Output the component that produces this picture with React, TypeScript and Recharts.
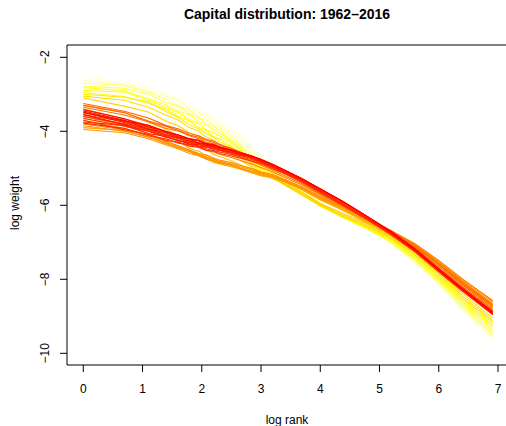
import React from 'react';
import { LineChart, Line, XAxis, YAxis, ReferenceLine } from 'recharts';

// log rank grid (ranks 1..10, then coarser up to rank 1000)
const LOG_RANK = [0, 0.69, 1.1, 1.39, 1.61, 1.79, 1.95, 2.08, 2.2, 2.3, 2.48, 2.64, 2.83, 3.0, 3.2, 3.4, 3.69, 4.0, 4.38, 4.79, 5.19, 5.6, 6.0, 6.4, 6.91];

// log weight per year
const W1962 = [-2.55, -2.72, -2.88, -3.0, -3.2, -3.28, -3.45, -3.58, -3.64, -3.75, -3.98, -4.15, -4.42, -4.7, -4.95, -5.25, -5.56, -5.93, -6.3, -6.65, -7.02, -7.55, -8.15, -8.85, -9.62];
const W1964 = [-2.5, -2.7, -2.8, -2.98, -3.12, -3.32, -3.42, -3.52, -3.66, -3.72, -3.9, -4.12, -4.4, -4.68, -4.9, -5.22, -5.53, -5.9, -6.28, -6.63, -7.0, -7.52, -8.12, -8.8, -9.58];
const W1966 = [-2.62, -2.74, -2.92, -3.05, -3.18, -3.4, -3.5, -3.62, -3.7, -3.82, -4.02, -4.22, -4.5, -4.75, -4.98, -5.27, -5.58, -5.95, -6.3, -6.65, -7.02, -7.55, -8.12, -8.8, -9.55];
const W1968 = [-2.7, -2.76, -2.95, -3.12, -3.32, -3.42, -3.62, -3.7, -3.84, -3.9, -4.1, -4.32, -4.6, -4.85, -5.05, -5.32, -5.63, -5.98, -6.33, -6.65, -7.0, -7.5, -8.1, -8.75, -9.5];
const W1970 = [-2.78, -2.84, -3.0, -3.22, -3.33, -3.52, -3.64, -3.8, -3.88, -3.98, -4.2, -4.38, -4.66, -4.9, -5.1, -5.36, -5.66, -6.0, -6.33, -6.63, -6.98, -7.48, -8.05, -8.7, -9.45];
const W1972 = [-2.82, -2.9, -3.12, -3.28, -3.46, -3.55, -3.74, -3.84, -3.96, -4.05, -4.25, -4.45, -4.72, -4.95, -5.12, -5.38, -5.68, -6.0, -6.33, -6.63, -6.98, -7.45, -8.02, -8.65, -9.38];
const W1974 = [-2.9, -2.94, -3.16, -3.35, -3.5, -3.68, -3.8, -3.96, -4.04, -4.12, -4.3, -4.5, -4.78, -5.0, -5.15, -5.42, -5.7, -6.02, -6.33, -6.62, -6.95, -7.42, -7.98, -8.6, -9.3];
const W1976 = [-2.95, -3.06, -3.25, -3.4, -3.6, -3.72, -3.9, -3.98, -4.14, -4.2, -4.38, -4.55, -4.82, -5.02, -5.18, -5.42, -5.7, -6.02, -6.32, -6.6, -6.92, -7.38, -7.95, -8.55, -9.25];
const W1978 = [-3.0, -3.08, -3.2, -3.46, -3.64, -3.82, -3.94, -4.06, -4.16, -4.28, -4.42, -4.6, -4.85, -5.05, -5.2, -5.44, -5.72, -6.02, -6.3, -6.58, -6.9, -7.35, -7.9, -8.5, -9.18];
const W1980 = [-3.05, -3.16, -3.35, -3.56, -3.7, -3.9, -4.0, -4.16, -4.24, -4.35, -4.5, -4.68, -4.9, -5.1, -5.24, -5.45, -5.72, -6.0, -6.3, -6.57, -6.88, -7.32, -7.85, -8.45, -9.12];
const W1982 = [-3.1, -3.32, -3.48, -3.72, -3.86, -4.04, -4.14, -4.32, -4.38, -4.5, -4.62, -4.78, -4.96, -5.12, -5.25, -5.45, -5.7, -5.98, -6.26, -6.54, -6.85, -7.28, -7.8, -8.38, -9.05];
const W1984 = [-3.3, -3.48, -3.76, -3.94, -4.14, -4.24, -4.4, -4.48, -4.62, -4.68, -4.78, -4.9, -5.02, -5.15, -5.28, -5.42, -5.65, -5.95, -6.22, -6.5, -6.82, -7.22, -7.72, -8.28, -8.95];
const W1986 = [-3.45, -3.72, -3.88, -4.12, -4.28, -4.46, -4.54, -4.66, -4.74, -4.82, -4.9, -4.98, -5.08, -5.18, -5.24, -5.36, -5.58, -5.85, -6.14, -6.48, -6.78, -7.18, -7.65, -8.2, -8.85];
const W1988 = [-3.6, -3.84, -4.06, -4.24, -4.44, -4.54, -4.66, -4.74, -4.84, -4.88, -4.95, -5.02, -5.12, -5.2, -5.26, -5.38, -5.58, -5.85, -6.12, -6.45, -6.75, -7.12, -7.6, -8.12, -8.75];
const W1989 = [-3.7, -3.92, -4.1, -4.28, -4.4, -4.52, -4.62, -4.7, -4.78, -4.84, -4.92, -5.0, -5.1, -5.2, -5.24, -5.36, -5.56, -5.84, -6.1, -6.44, -6.74, -7.1, -7.58, -8.08, -8.7];
const W1990 = [-3.9, -3.98, -4.16, -4.3, -4.46, -4.54, -4.66, -4.72, -4.8, -4.85, -4.92, -5.0, -5.1, -5.18, -5.24, -5.36, -5.56, -5.82, -6.1, -6.42, -6.72, -7.08, -7.55, -8.05, -8.68];
const W1992 = [-3.95, -4.04, -4.2, -4.36, -4.48, -4.6, -4.66, -4.76, -4.8, -4.86, -4.92, -5.0, -5.08, -5.15, -5.22, -5.34, -5.54, -5.8, -6.07, -6.4, -6.7, -7.05, -7.5, -8.0, -8.6];
const W1993 = [-3.85, -4.0, -4.15, -4.32, -4.44, -4.55, -4.62, -4.7, -4.76, -4.82, -4.88, -4.95, -5.04, -5.12, -5.2, -5.32, -5.52, -5.78, -6.05, -6.38, -6.68, -7.04, -7.5, -8.0, -8.58];
const W1994 = [-3.8, -3.96, -4.1, -4.26, -4.4, -4.5, -4.6, -4.64, -4.72, -4.78, -4.84, -4.92, -5.0, -5.1, -5.17, -5.3, -5.5, -5.76, -6.03, -6.38, -6.68, -7.05, -7.5, -8.0, -8.58];
const W1996 = [-3.6, -3.8, -3.98, -4.14, -4.24, -4.36, -4.42, -4.52, -4.56, -4.62, -4.7, -4.78, -4.88, -4.98, -5.1, -5.25, -5.45, -5.72, -6.02, -6.35, -6.68, -7.08, -7.55, -8.05, -8.65];
const W1997 = [-3.5, -3.7, -3.9, -4.02, -4.14, -4.24, -4.32, -4.4, -4.46, -4.52, -4.6, -4.7, -4.8, -4.92, -5.05, -5.2, -5.42, -5.7, -6.0, -6.34, -6.7, -7.1, -7.58, -8.08, -8.7];
const W1998 = [-3.35, -3.56, -3.74, -3.92, -4.0, -4.12, -4.2, -4.3, -4.34, -4.42, -4.5, -4.6, -4.72, -4.85, -5.0, -5.15, -5.38, -5.68, -6.0, -6.35, -6.7, -7.12, -7.6, -8.12, -8.72];
const W2000 = [-3.25, -3.46, -3.64, -3.84, -3.94, -4.06, -4.12, -4.22, -4.26, -4.35, -4.45, -4.55, -4.68, -4.8, -4.95, -5.1, -5.35, -5.65, -6.0, -6.35, -6.72, -7.15, -7.65, -8.15, -8.78];
const W2001 = [-3.3, -3.5, -3.72, -3.86, -3.98, -4.1, -4.16, -4.24, -4.3, -4.38, -4.46, -4.58, -4.68, -4.8, -4.96, -5.1, -5.34, -5.64, -5.98, -6.35, -6.74, -7.18, -7.7, -8.2, -8.82];
const W2002 = [-3.4, -3.66, -3.84, -4.02, -4.1, -4.2, -4.24, -4.34, -4.36, -4.45, -4.52, -4.62, -4.72, -4.82, -4.98, -5.12, -5.36, -5.66, -6.0, -6.38, -6.75, -7.2, -7.72, -8.22, -8.85];
const W2004 = [-3.55, -3.74, -3.92, -4.04, -4.16, -4.22, -4.32, -4.34, -4.42, -4.48, -4.54, -4.62, -4.7, -4.8, -4.95, -5.1, -5.35, -5.65, -6.0, -6.38, -6.78, -7.25, -7.78, -8.3, -8.92];
const W2005 = [-3.6, -3.8, -3.95, -4.08, -4.18, -4.26, -4.32, -4.38, -4.42, -4.46, -4.52, -4.6, -4.68, -4.78, -4.92, -5.08, -5.32, -5.62, -5.98, -6.38, -6.8, -7.26, -7.8, -8.32, -8.95];
const W2006 = [-3.65, -3.86, -4.0, -4.12, -4.2, -4.3, -4.34, -4.4, -4.46, -4.5, -4.56, -4.63, -4.72, -4.82, -4.96, -5.1, -5.33, -5.62, -5.98, -6.38, -6.78, -7.25, -7.8, -8.32, -8.95];
const W2008 = [-3.7, -3.96, -4.08, -4.24, -4.3, -4.4, -4.44, -4.52, -4.54, -4.6, -4.66, -4.72, -4.8, -4.88, -5.02, -5.15, -5.38, -5.65, -6.0, -6.38, -6.78, -7.25, -7.78, -8.3, -8.92];
const W2009 = [-3.78, -3.92, -4.12, -4.2, -4.32, -4.36, -4.42, -4.48, -4.52, -4.56, -4.62, -4.68, -4.76, -4.85, -4.98, -5.12, -5.35, -5.62, -5.98, -6.36, -6.76, -7.22, -7.76, -8.28, -8.9];
const W2010 = [-3.75, -3.84, -4.06, -4.14, -4.26, -4.3, -4.4, -4.42, -4.5, -4.52, -4.58, -4.65, -4.72, -4.82, -4.96, -5.1, -5.32, -5.6, -5.95, -6.35, -6.75, -7.22, -7.75, -8.28, -8.9];
const W2012 = [-3.55, -3.82, -4.0, -4.16, -4.24, -4.34, -4.36, -4.44, -4.46, -4.5, -4.56, -4.62, -4.7, -4.8, -4.94, -5.08, -5.3, -5.58, -5.92, -6.32, -6.72, -7.2, -7.75, -8.28, -8.9];
const W2013 = [-3.48, -3.76, -3.95, -4.1, -4.18, -4.26, -4.32, -4.38, -4.42, -4.46, -4.52, -4.6, -4.68, -4.78, -4.92, -5.06, -5.28, -5.56, -5.9, -6.3, -6.7, -7.18, -7.72, -8.26, -8.88];
const W2014 = [-3.45, -3.7, -3.94, -4.04, -4.16, -4.2, -4.32, -4.34, -4.42, -4.45, -4.5, -4.58, -4.66, -4.76, -4.9, -5.05, -5.28, -5.56, -5.9, -6.3, -6.7, -7.18, -7.72, -8.25, -8.88];
const W2015 = [-3.42, -3.66, -3.88, -4.0, -4.12, -4.2, -4.26, -4.34, -4.38, -4.42, -4.5, -4.57, -4.66, -4.76, -4.9, -5.05, -5.28, -5.56, -5.9, -6.3, -6.72, -7.2, -7.75, -8.28, -8.92];
const W2016 = [-3.5, -3.72, -3.84, -4.0, -4.1, -4.2, -4.24, -4.34, -4.36, -4.43, -4.5, -4.58, -4.66, -4.76, -4.9, -5.05, -5.28, -5.56, -5.9, -6.3, -6.72, -7.2, -7.75, -8.28, -8.92];

const YEARS = [1962, 1964, 1966, 1968, 1970, 1972, 1974, 1976, 1978, 1980, 1982, 1984, 1986, 1988, 1989,
  1990, 1992, 1993, 1994, 1996, 1997, 1998, 2000, 2001, 2002, 2004, 2005, 2006, 2008, 2009, 2010, 2012, 2013, 2014, 2015, 2016];
const WEIGHTS = [W1962, W1964, W1966, W1968, W1970, W1972, W1974, W1976, W1978, W1980, W1982, W1984, W1986, W1988, W1989,
  W1990, W1992, W1993, W1994, W1996, W1997, W1998, W2000, W2001, W2002, W2004, W2005, W2006, W2008, W2009, W2010, W2012, W2013, W2014, W2015, W2016];

// reversed heat palette: pale yellow (early) -> red (late)
const LINE_COLORS = ['#FFFFF6', '#FFFFCE', '#FFFFA7', '#FFFF80', '#FFFF58', '#FFFF31', '#FFFF0A',
  '#FFF900', '#FFEC00', '#FFE000', '#FFD300', '#FFC700', '#FFBB00', '#FFAE00', '#FFA800',
  '#FFA200', '#FF9500', '#FF8F00', '#FF8900', '#FF7C00', '#FF7600', '#FF7000', '#FF6400', '#FF5D00', '#FF5700',
  '#FF4B00', '#FF4400', '#FF3E00', '#FF3200', '#FF2C00', '#FF2500', '#FF1900', '#FF1300', '#FF0C00', '#FF0600', '#FF0000'];

const X_TICKS = [0, 1, 2, 3, 4, 5, 6, 7];
const Y_TICKS = [-10, -8, -6, -4, -2];
const X_MIN = -0.275;
const X_MAX = 7.135;
const Y_MIN = -10.316;
const Y_MAX = -1.668;

const FONT = '"Liberation Sans", Arial, Helvetica, sans-serif';

const chartData = LOG_RANK.map((x, i) => {
  const row: { [key: string]: number } = { x };
  YEARS.forEach((yr, k) => {
    row['y' + yr] = WEIGHTS[k][i];
  });
  return row;
});

const XTick = ({ x, payload }: any) => (
  <text x={x} y={393} textAnchor="middle" fontSize={12} fill="#000" fontFamily={FONT}>
    {payload.value}
  </text>
);

const YTick = ({ y, payload }: any) => (
  <text
    x={45}
    y={y}
    textAnchor="middle"
    dominantBaseline="central"
    fontSize={12}
    fill="#000"
    fontFamily={FONT}
    transform={`rotate(-90, 45, ${y})`}
  >
    {payload.value < 0 ? '\u2212' + Math.abs(payload.value) : payload.value}
  </text>
);

export default function App() {
  return (
    <div style={{ position: 'absolute', left: 0, top: 0, width: 506, height: 426, overflow: 'hidden', background: '#fff' }}>
      <LineChart width={506} height={426} data={chartData} margin={{ top: 45, right: 0, bottom: 0, left: 0 }}>
        <XAxis
          type="number"
          dataKey="x"
          domain={[X_MIN, X_MAX]}
          ticks={X_TICKS}
          allowDataOverflow
          height={61}
          tickSize={7}
          tick={<XTick />}
          axisLine={{ stroke: '#000' }}
          tickLine={{ stroke: '#000' }}
        />
        <YAxis
          type="number"
          domain={[Y_MIN, Y_MAX]}
          ticks={Y_TICKS}
          allowDataOverflow
          width={67}
          tickSize={7}
          tick={<YTick />}
          axisLine={{ stroke: '#000' }}
          tickLine={{ stroke: '#000' }}
        />
        <ReferenceLine y={Y_MAX} stroke="#000" ifOverflow="visible" />
        {YEARS.map((yr, k) => (
          <Line
            key={yr}
            type="linear"
            dataKey={'y' + yr}
            stroke={LINE_COLORS[k]}
            strokeWidth={1.1}
            dot={false}
            activeDot={false}
            isAnimationActive={false}
          />
        ))}
      </LineChart>
      <svg width={506} height={426} style={{ position: 'absolute', left: 0, top: 0, pointerEvents: 'none' }}>
        <text x={287} y={19} textAnchor="middle" fontSize={14} fontWeight="bold" fontFamily={FONT} fill="#000">
          Capital distribution: 1962–2016
        </text>
        <text x={287} y={424} textAnchor="middle" fontSize={12} fontFamily={FONT} fill="#000">
          log rank
        </text>
        <text
          x={15}
          y={203}
          textAnchor="middle"
          dominantBaseline="central"
          fontSize={12}
          fontFamily={FONT}
          fill="#000"
          transform="rotate(-90, 15, 203)"
        >
          log weight
        </text>
      </svg>
    </div>
  );
}
